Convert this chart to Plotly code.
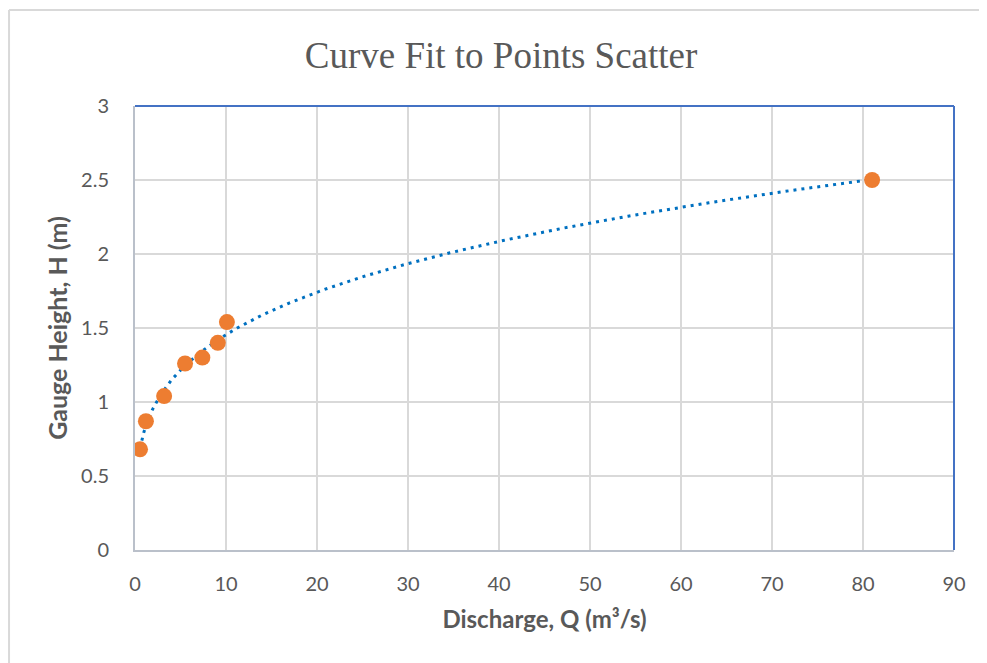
import numpy as np
import plotly.graph_objects as go

# Data
discharge = [0.55, 1.2, 3.2, 5.5, 7.4, 9.1, 10.1, 81.0]
gauge_height = [0.68, 0.87, 1.04, 1.26, 1.30, 1.40, 1.54, 2.50]
x_ticks = [0, 10, 20, 30, 40, 50, 60, 70, 80, 90]
y_ticks = [0, 0.5, 1, 1.5, 2, 2.5, 3]
y_tick_labels = ["0", "0.5", "1", "1.5", "2", "2.5", "3"]

# Power trendline (as Excel computes it): H = a * Q^b fitted in log space
b, log_a = np.polyfit(np.log(discharge), np.log(gauge_height), 1)
a = np.exp(log_a)
q_fit = np.linspace(min(discharge), max(discharge), 400)
h_fit = a * q_fit ** b

GREY = "#595959"
font_sans = "Lato, 'Open Sans', sans-serif"

fig = go.Figure()
fig.add_trace(go.Scatter(
    x=q_fit, y=h_fit, mode="lines",
    line=dict(color="#0070C0", width=3, dash="3px,5px"),
    hoverinfo="skip", showlegend=False,
))
fig.add_trace(go.Scatter(
    x=discharge, y=gauge_height, mode="markers",
    marker=dict(color="#ED7D31", size=16, line=dict(width=0)),
    showlegend=False,
))

fig.update_layout(
    width=979, height=655,
    margin=dict(l=127, r=33, t=98, b=113),
    paper_bgcolor="white", plot_bgcolor="white",
    title=dict(text="Curve Fit to Points Scatter", x=0.5036, xanchor="center",
               y=0.928, yanchor="middle", xref="container", yref="container",
               font=dict(family="'Liberation Serif', 'Times New Roman', serif", size=37, color=GREY)),
    xaxis=dict(
        range=[0, 90], tickvals=x_ticks, ticktext=[str(t) for t in x_ticks],
        showgrid=True, gridcolor="#D9D9D9", gridwidth=1.5,
        showline=True, linecolor="#BAC0CA", linewidth=2,
        zeroline=False, ticks="", ticklabelstandoff=15,
        tickfont=dict(family=font_sans, size=20, color=GREY),
        title=dict(text="<b>Discharge, Q (m³/s)</b>", standoff=17,
                   font=dict(family=font_sans, size=24, color=GREY)),
    ),
    yaxis=dict(
        range=[0, 3], tickvals=y_ticks, ticktext=y_tick_labels,
        showgrid=True, gridcolor="#D9D9D9", gridwidth=1.5,
        showline=True, linecolor="#BAC0CA", linewidth=2,
        zeroline=False, ticks="", ticklabelstandoff=20,
        tickfont=dict(family=font_sans, size=20, color=GREY),
        title=dict(text="<b>Gauge Height, H (m)</b>", standoff=6,
                   font=dict(family=font_sans, size=25, color=GREY)),
    ),
    shapes=[
        # blue frame on top and right of plot area
        dict(type="line", xref="paper", yref="paper", x0=0, x1=1, y0=1, y1=1,
             line=dict(color="#4472C4", width=2)),
        dict(type="line", xref="paper", yref="paper", x0=1, x1=1, y0=0, y1=1,
             line=dict(color="#4472C4", width=2)),
        # outer chart border (light grey), left and top
        dict(type="line", xref="paper", yref="paper", x0=-0.1538, x1=-0.1538, y0=-0.4, y1=1.216,
             line=dict(color="#D9D9D9", width=2)),
        dict(type="line", xref="paper", yref="paper", x0=-0.1538, x1=1.2, y0=1.216, y1=1.216,
             line=dict(color="#D9D9D9", width=2)),
    ],
)

fig.write_html("out.html")
